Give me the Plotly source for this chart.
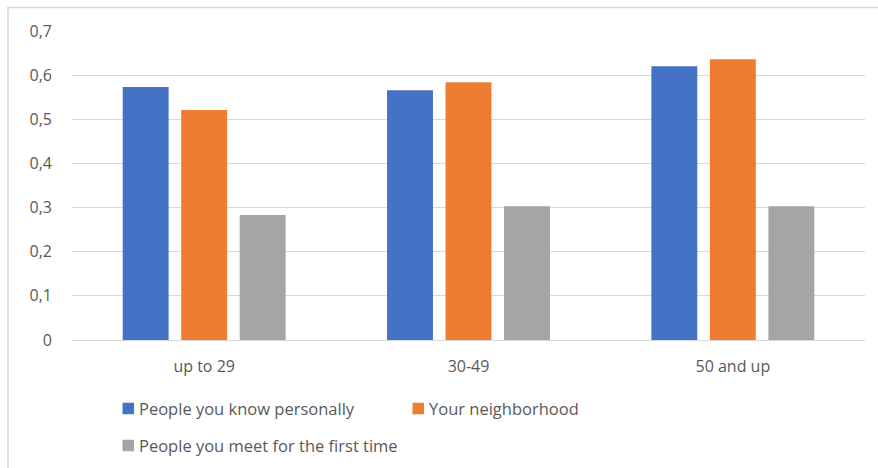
import plotly.graph_objects as go

# Age groups and the average trust score for each kind of person
age_groups = ["up to 29", "30-49", "50 and up"]
known_personally = [0.573, 0.566, 0.620]
neighborhood = [0.521, 0.584, 0.636]
first_time = [0.283, 0.303, 0.303]

series_names = ["People you know personally", "Your neighborhood",
                "People you meet for the first time"]
series_colors = ["#4472C4", "#ED7D31", "#A5A5A5"]
series_values = [known_personally, neighborhood, first_time]

y_tick_values = [0, 0.1, 0.2, 0.3, 0.4, 0.5, 0.6, 0.7]
y_tick_labels = ["0", "0,1", "0,2", "0,3", "0,4", "0,5", "0,6", "0,7"]

W, H = 878, 468
L, R, T, B = 72, 13, 31, 128
plot_w = W - L - R
plot_h = H - T - B


def px_to_paper_x(px):
    return (px - L) / plot_w


def px_to_paper_y(py):
    return (H - B - py) / plot_h


text_color = "#595959"
font_family = "Open Sans, Noto Sans, sans-serif"

fig = go.Figure()
for name, vals, color in zip(series_names, series_values, series_colors):
    fig.add_trace(go.Bar(
        x=age_groups, y=vals, name=name,
        marker=dict(color=color, line=dict(width=0)),
    ))

# Legend laid out as two rows below the axis: swatch + label per series
legend_slots = [(122.5, 408.5), (412.5, 408.5), (122.5, 445.5)]
sw = 11.5
shapes = []
annotations = []
for (lx, ly), name, color in zip(legend_slots, series_names, series_colors):
    shapes.append(dict(type="rect", xref="paper", yref="paper",
                       x0=px_to_paper_x(lx), x1=px_to_paper_x(lx + sw),
                       y0=px_to_paper_y(ly + sw / 2), y1=px_to_paper_y(ly - sw / 2),
                       line=dict(width=0), fillcolor=color))
    annotations.append(dict(xref="paper", yref="paper",
                            x=px_to_paper_x(lx + sw + 3), y=px_to_paper_y(ly),
                            xanchor="left", yanchor="middle", showarrow=False,
                            text=name, font=dict(size=16.5, color=text_color)))

# Light outer frame around the chart area
shapes.append(dict(type="rect", xref="paper", yref="paper",
                   x0=px_to_paper_x(8), x1=px_to_paper_x(884),
                   y0=px_to_paper_y(475), y1=px_to_paper_y(7.5),
                   line=dict(color="#D6D6D6", width=1.5), fillcolor="rgba(0,0,0,0)",
                   layer="below"))

fig.update_layout(
    width=W, height=H,
    margin=dict(l=L, r=R, t=T, b=B, autoexpand=False),
    paper_bgcolor="white", plot_bgcolor="white",
    barmode="group", bargap=0.336, bargroupgap=0.215,
    font=dict(family=font_family, size=16, color=text_color),
    xaxis=dict(showgrid=False, showline=False, ticks="",
               tickfont=dict(size=16, color=text_color), ticklabelstandoff=15),
    yaxis=dict(range=[0, 0.7], tickvals=y_tick_values, ticktext=y_tick_labels,
               showgrid=True, gridcolor="#D9D9D9", gridwidth=1,
               zeroline=True, zerolinecolor="#D9D9D9", zerolinewidth=1,
               showline=False, ticks="", ticklabelstandoff=19,
               tickfont=dict(size=16, color=text_color)),
    showlegend=False,
    shapes=shapes,
    annotations=annotations,
)

fig.write_html("out.html")
